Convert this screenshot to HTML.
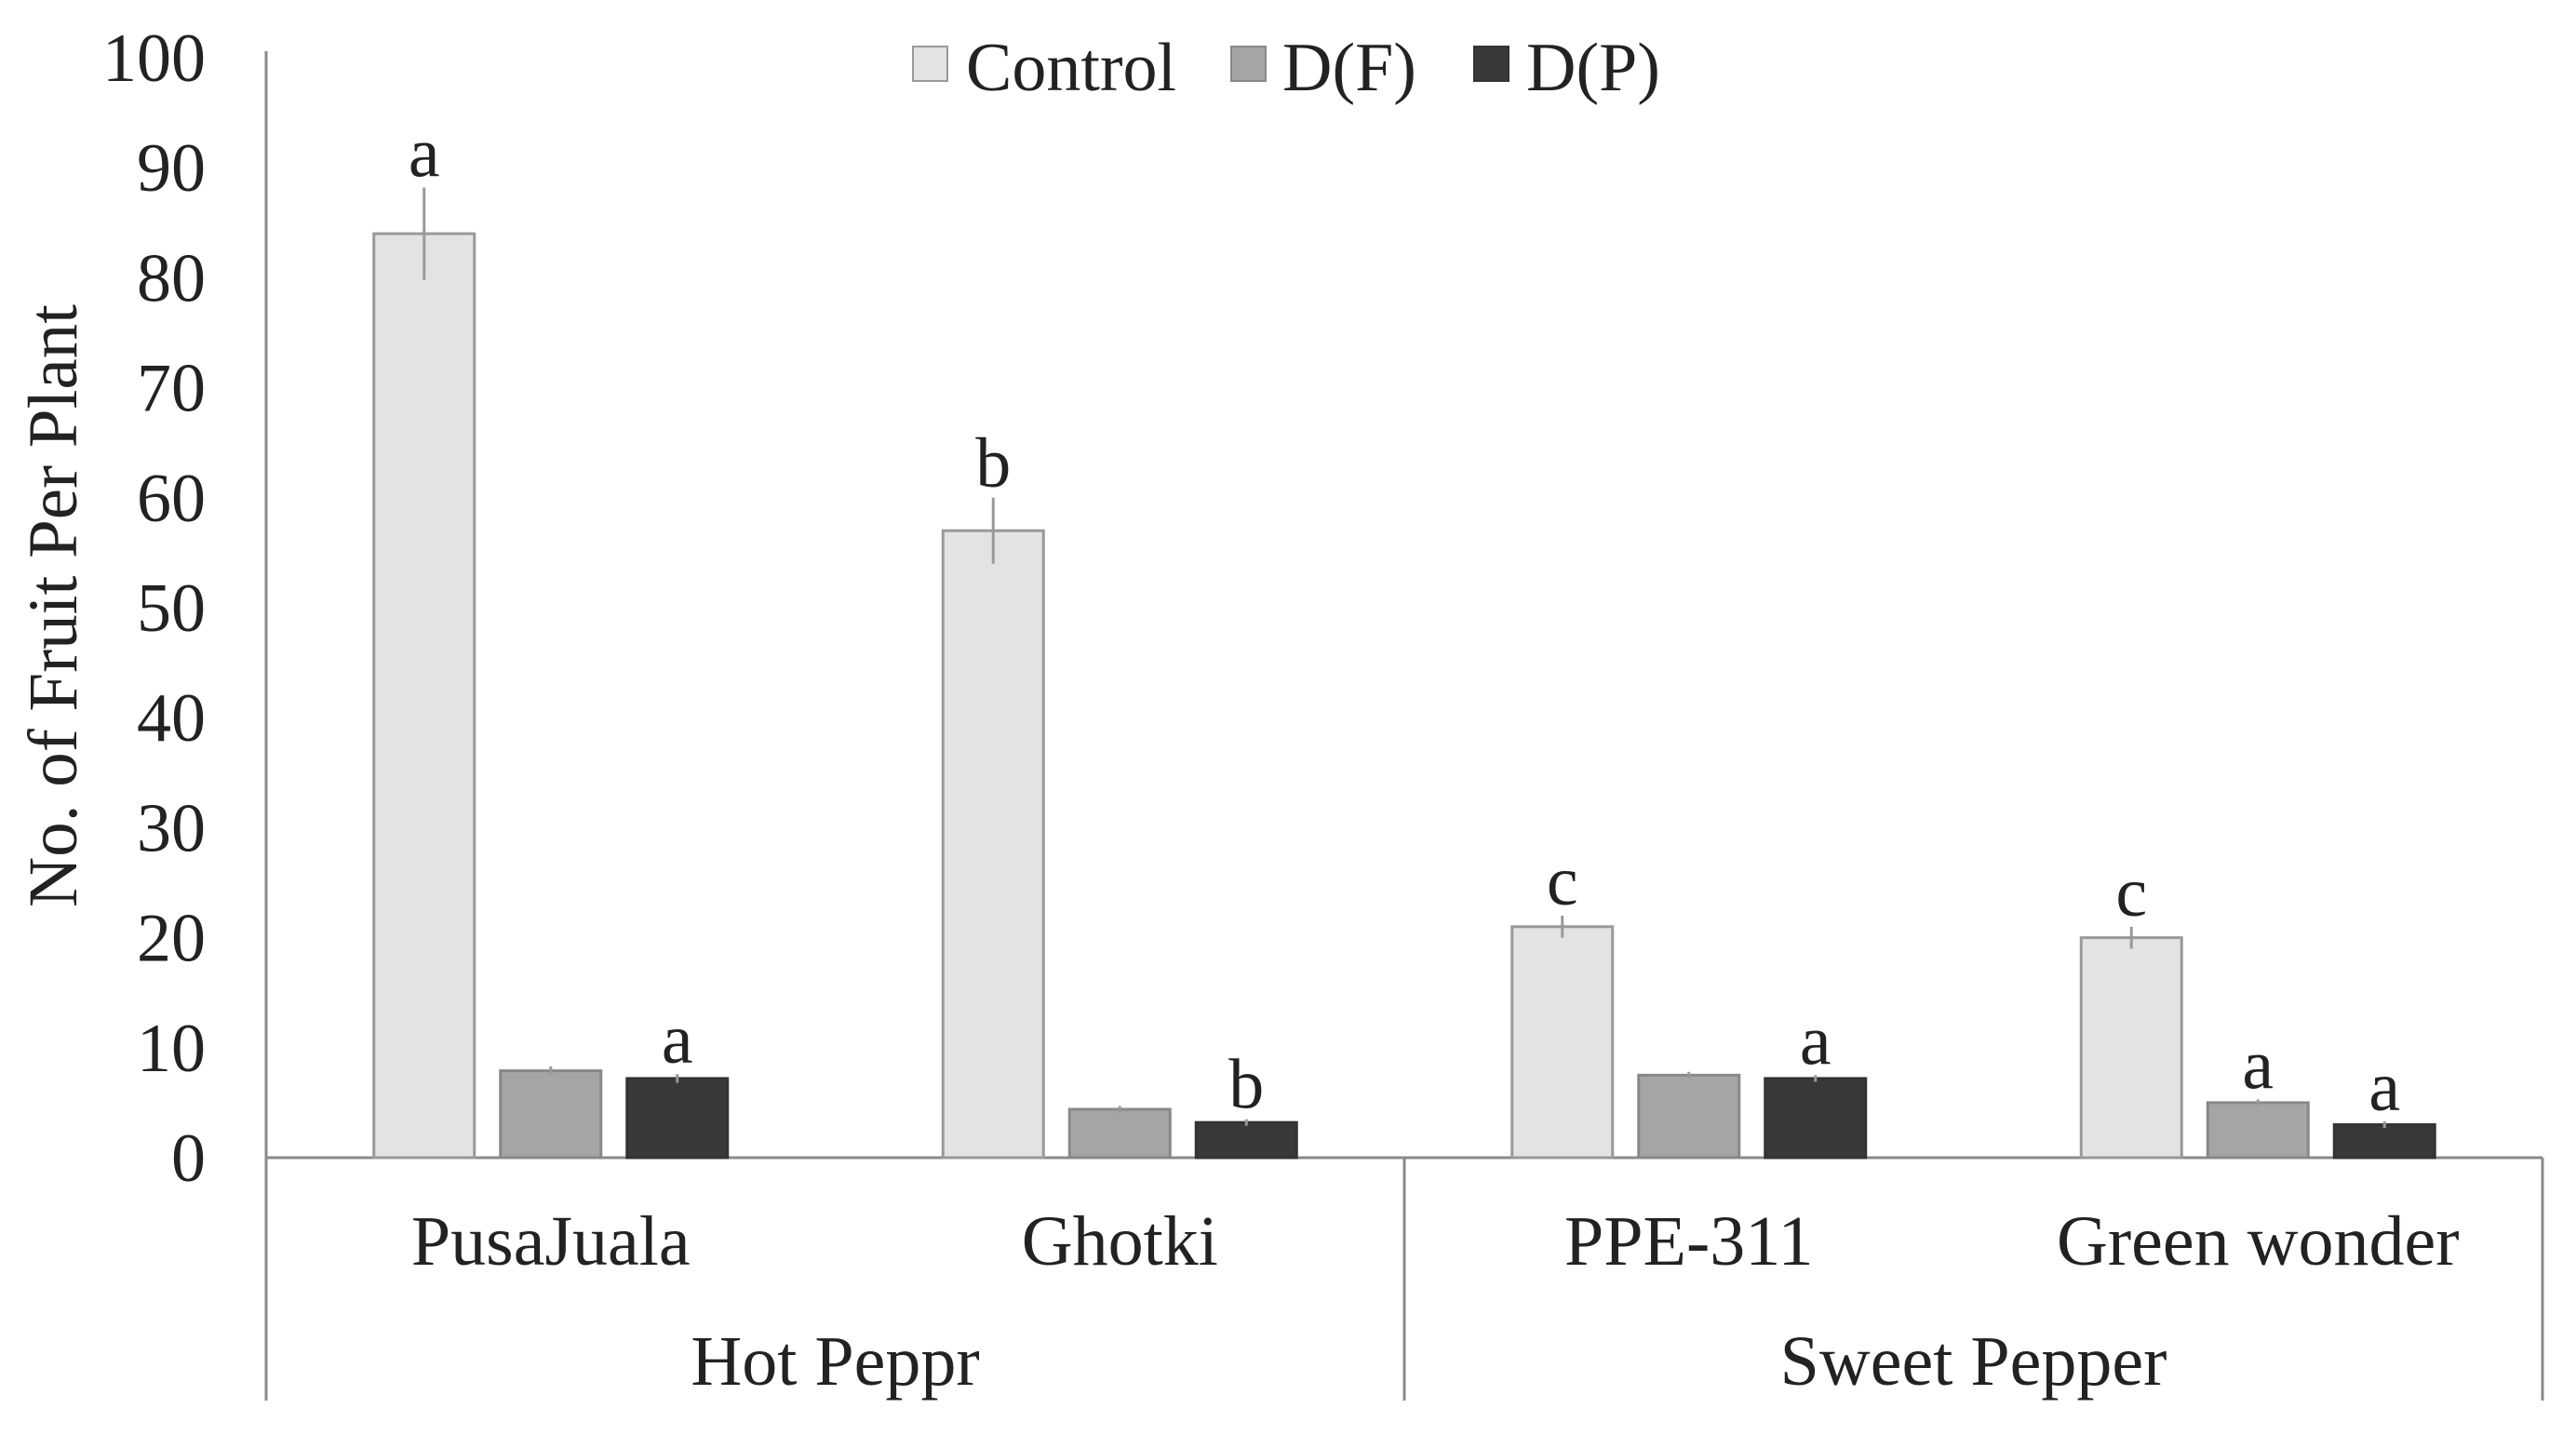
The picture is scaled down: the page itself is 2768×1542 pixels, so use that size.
<!DOCTYPE html>
<html><head><meta charset="utf-8"><style>
html,body{margin:0;padding:0;background:#fff;}
svg{display:block;font-family:"Liberation Serif",serif;}
</style></head><body>
<svg id="chart" width="2768" height="1542" viewBox="0 0 2768 1542">
<g id="axes"></g>
<g id="bars"></g>
<g id="labels"></g>
<text x="65" y="651" font-size="75" fill="#222" text-anchor="middle" dominant-baseline="middle" transform="rotate(-90 65 651)">No. of Fruit Per Plant</text>
<g>
  <g><rect x="981" y="50" width="37" height="37" fill="#e3e3e3" stroke="#999" stroke-width="2"/><text x="1038" y="97" font-size="74" fill="#222">Control</text></g>
  <g><rect x="1323" y="50" width="37" height="37" fill="#a6a4a4" stroke="#888" stroke-width="2"/><text x="1378" y="97" font-size="74" fill="#222">D(F)</text></g>
  <g><rect x="1584" y="50" width="37" height="37" fill="#3a3838" stroke="#333" stroke-width="2"/><text x="1640" y="97" font-size="74" fill="#222">D(P)</text></g>
</g>
</svg>
<script>
const categories = ["PusaJuala", "Ghotki", "PPE-311", "Green wonder"];
const groups = ["Hot Peppr", "Sweet Pepper"];
const seriesNames = ["Control", "D(F)", "D(P)"];
const controlValues = [84, 57, 21, 20];
const dfValues = [7.9, 4.4, 7.5, 5.0];
const dpValues = [7.2, 3.2, 7.2, 3.0];
const controlErr = [4.2, 3, 1, 1];
const dfErr = [0.4, 0.3, 0.3, 0.3];
const dpErr = [0.4, 0.3, 0.3, 0.3];
const controlLetters = ["a", "b", "c", "c"];
const dfLetters = ["", "", "", "a"];
const dpLetters = ["a", "b", "a", "a"];
const yTicks = [0, 10, 20, 30, 40, 50, 60, 70, 80, 90, 100];

const NS = "http://www.w3.org/2000/svg";
const X0 = 286, X1 = 2732, Y0 = 1244, YTOP = 62, YB = 1505;
function y(v){ return Y0 - (v/100)*(Y0-YTOP); }
const catW = (X1-X0)/categories.length;
function xc(i){ return X0 + catW*(i+0.5); }
function mk(parent, tag, attrs){ const e=document.createElementNS(NS,tag); for(const k in attrs) e.setAttribute(k,attrs[k]); parent.appendChild(e); return e; }

const axes = document.getElementById('axes');
let l = mk(axes,'line',{x1:X0,y1:55,x2:X0,y2:YB,stroke:'#8a8a8a','stroke-width':3});


l = mk(axes,'line',{x1:X0,y1:Y0,x2:X1,y2:Y0,stroke:'#8a8a8a','stroke-width':3});


l = mk(axes,'line',{x1:(X0+X1)/2,y1:Y0,x2:(X0+X1)/2,y2:YB,stroke:'#8a8a8a','stroke-width':3});


l = mk(axes,'line',{x1:X1,y1:Y0,x2:X1,y2:YB,stroke:'#8a8a8a','stroke-width':3});


yTicks.forEach(t=>{
  const tx = mk(axes,'text',{x:221,y:y(t)+25,'font-size':74,fill:'#222','text-anchor':'end'});
  tx.textContent = t;
  
  
});

const bars = document.getElementById('bars');
const labels = document.getElementById('labels');
const series = [
  {vals:controlValues, err:controlErr, let:controlLetters, fill:'#e3e3e3', stroke:'#999', key:'control'},
  {vals:dfValues, err:dfErr, let:dfLetters, fill:'#a6a4a4', stroke:'#888', key:'df'},
  {vals:dpValues, err:dpErr, let:dpLetters, fill:'#3a3838', stroke:'#333', key:'dp'}
];
const BW = 108, STEP = 136;
series.forEach((s,si)=>{
  categories.forEach((c,i)=>{
    const cx = xc(i) + (si-1)*STEP;
    const top = y(s.vals[i]);
    const r = mk(bars,'rect',{x:cx-BW/2,y:top,width:BW,height:Y0-top,fill:s.fill,stroke:s.stroke,'stroke-width':3});
    
    
    const e = mk(bars,'line',{x1:cx,y1:y(s.vals[i]+s.err[i]),x2:cx,y2:y(s.vals[i]-s.err[i]),stroke:'#999','stroke-width':3});
    
    
    if(s.let[i]){
      const t = mk(labels,'text',{x:cx,y:y(s.vals[i]+s.err[i])-12,'font-size':76,fill:'#222','text-anchor':'middle'});
      t.textContent = s.let[i];
      
      
    }
  });
});
categories.forEach((c,i)=>{
  const t = mk(labels,'text',{x:xc(i),y:1359,'font-size':76,fill:'#222','text-anchor':'middle'});
  t.textContent = c;
  
  
});
groups.forEach((g,i)=>{
  const t = mk(labels,'text',{x:X0+(X1-X0)/4*(2*i+1),y:1488,'font-size':76,fill:'#222','text-anchor':'middle'});
  t.textContent = g;
  
  
});
</script>
</body></html>
